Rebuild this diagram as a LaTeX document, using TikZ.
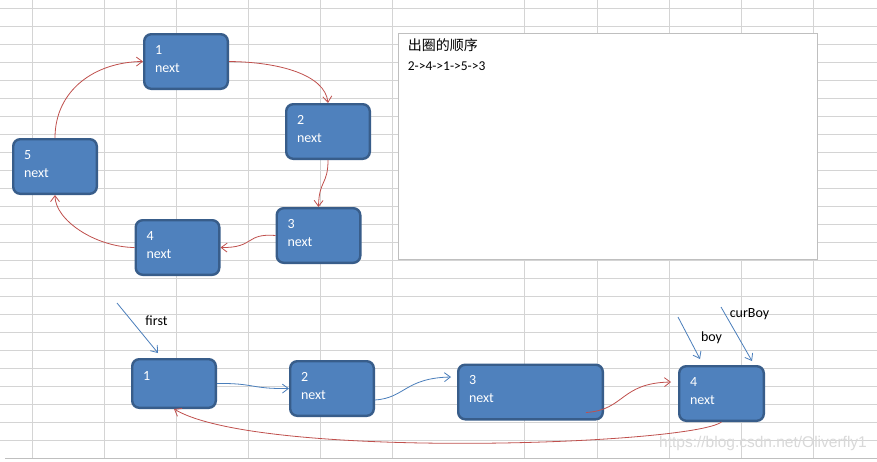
\documentclass[tikz,border=0pt]{standalone}
\usepackage{fontspec}
\setmainfont{Carlito}
\newfontfamily\cjk{Noto Sans CJK SC}
\newfontfamily\wmfont{Liberation Sans}
\usetikzlibrary{arrows.meta}
\definecolor{boyfill}{HTML}{4F81BD}
\definecolor{boyline}{HTML}{385D8A}
\definecolor{nextred}{HTML}{C0504D}
\definecolor{nextblue}{HTML}{4A7EBB}
\definecolor{gridgray}{HTML}{D4D4D4}
\definecolor{boxgray}{HTML}{BFBFBF}
\begin{document}
\begin{tikzpicture}[x=1pt,y=-1pt,font=\fontsize{14}{18}\selectfont,
  boybox/.style={draw=boyline,fill=boyfill,line width=2.4pt,rounded corners=7pt,
    text=white,align=left,text width=#1,inner xsep=10.8pt,inner ysep=0pt,
    text height=9pt,text depth=24pt,minimum height=54.6pt},
  boybox/.default=62pt,
  redlink/.style={draw=nextred,line width=0.8pt,-{Straight Barb[length=6pt,width=9pt]}},
  bluelink/.style={draw=nextblue,line width=0.8pt,-{Straight Barb[length=6pt,width=9pt]}}]
\fill[white] (0,0) rectangle (877,461);
\useasboundingbox (0,0) rectangle (877,461);
\foreach \k in {0,...,24} \draw[gridgray,line width=0.8pt] (0,{8+18*\k}) -- (877,{8+18*\k});
\foreach \x in {32,104,176,248,320,392,524,597,669,741,813} \draw[gridgray,line width=0.8pt] (\x,0) -- (\x,458);
\draw[boxgray,line width=0.8pt] (5,458.5) -- (877,458.5);
\node[draw=boxgray,fill=white,line width=0.8pt,minimum width=419pt,minimum height=226pt] (order) at (607.5,146) {};
\node[anchor=north west,inner sep=0pt,font=\cjk\fontsize{14}{16}\selectfont] (title) at ([shift={(10pt,-6pt)}]order.north west) {出圈的顺序};
\node[anchor=north west,inner sep=0pt,font=\fontsize{13.5}{16}\selectfont] (seq) at ([shift={(10pt,-29pt)}]order.north west) {2->4->1->5->3};
\node[boybox] (n1) at (186,61.5) {1\\next};
\node[boybox] (n2) at (328,131.5) {2\\next};
\node[boybox] (n3) at (318.5,235.5) {3\\next};
\node[boybox] (n4) at (177.5,247.5) {4\\next};
\node[boybox] (n5) at (55,166.5) {5\\next};
\draw[redlink] (n1.east) .. controls (280,62) and (325,75) .. (n2.north);
\draw[redlink] (n2.south) .. controls (328,185) and (319,180) .. (n3.north);
\draw[redlink] (n3.west) .. controls (245,233) and (255,248) .. (n4.east);
\draw[redlink] (n4.west) .. controls (95,247) and (55,220) .. (n5.south);
\draw[redlink] (n5.north) .. controls (55,90) and (95,62) .. (n1.west);
\node[boybox,minimum height=48.6pt,text depth=16pt] (b1) at (174,383.5) {1};
\node[boybox] (b2) at (332,388.5) {2\\next};
\node[boybox=123pt] (b3) at (530.5,392) {3\\next};
\node[boybox=63pt] (b4) at (721.5,393.5) {4\\next};
\draw[bluelink] (b1.east) .. controls (255,383) and (250,389) .. (b2.west);
\draw[bluelink] ([yshift=-11.5pt]b2.east) .. controls (405,398) and (405,378) .. ([shift={(-6pt,15pt)}]b3.west);
\draw[redlink] ([shift={(-18pt,8pt)}]b3.south east) .. controls (625,410) and (620,383) .. ([shift={(-7pt,11.5pt)}]b4.west);
\draw[redlink] (b4.south) .. controls (690,445) and (260,460) .. (b1.south);
\coordinate (firsttail) at (117,303);
\coordinate (boytail) at (678,317);
\coordinate (curtail) at (721,307);
\draw[bluelink] (firsttail) -- ([shift={(-16pt,5pt)}]b1.north);
\draw[bluelink] (boytail) -- ([shift={(-21.5pt,6pt)}]b4.north);
\draw[bluelink] (curtail) -- ([shift={(30.5pt,4pt)}]b4.north);
\node (first) at (156.5,321) {first};
\node (boy) at (711.5,338) {boy};
\node (curBoy) at (749.5,314) {curBoy};
\node[text=black!15,font=\wmfont\fontsize{15.5}{18}\selectfont] (mark) at (763,443) {https://blog.csdn.net/Oliverfly1};
\end{tikzpicture}
\end{document}
